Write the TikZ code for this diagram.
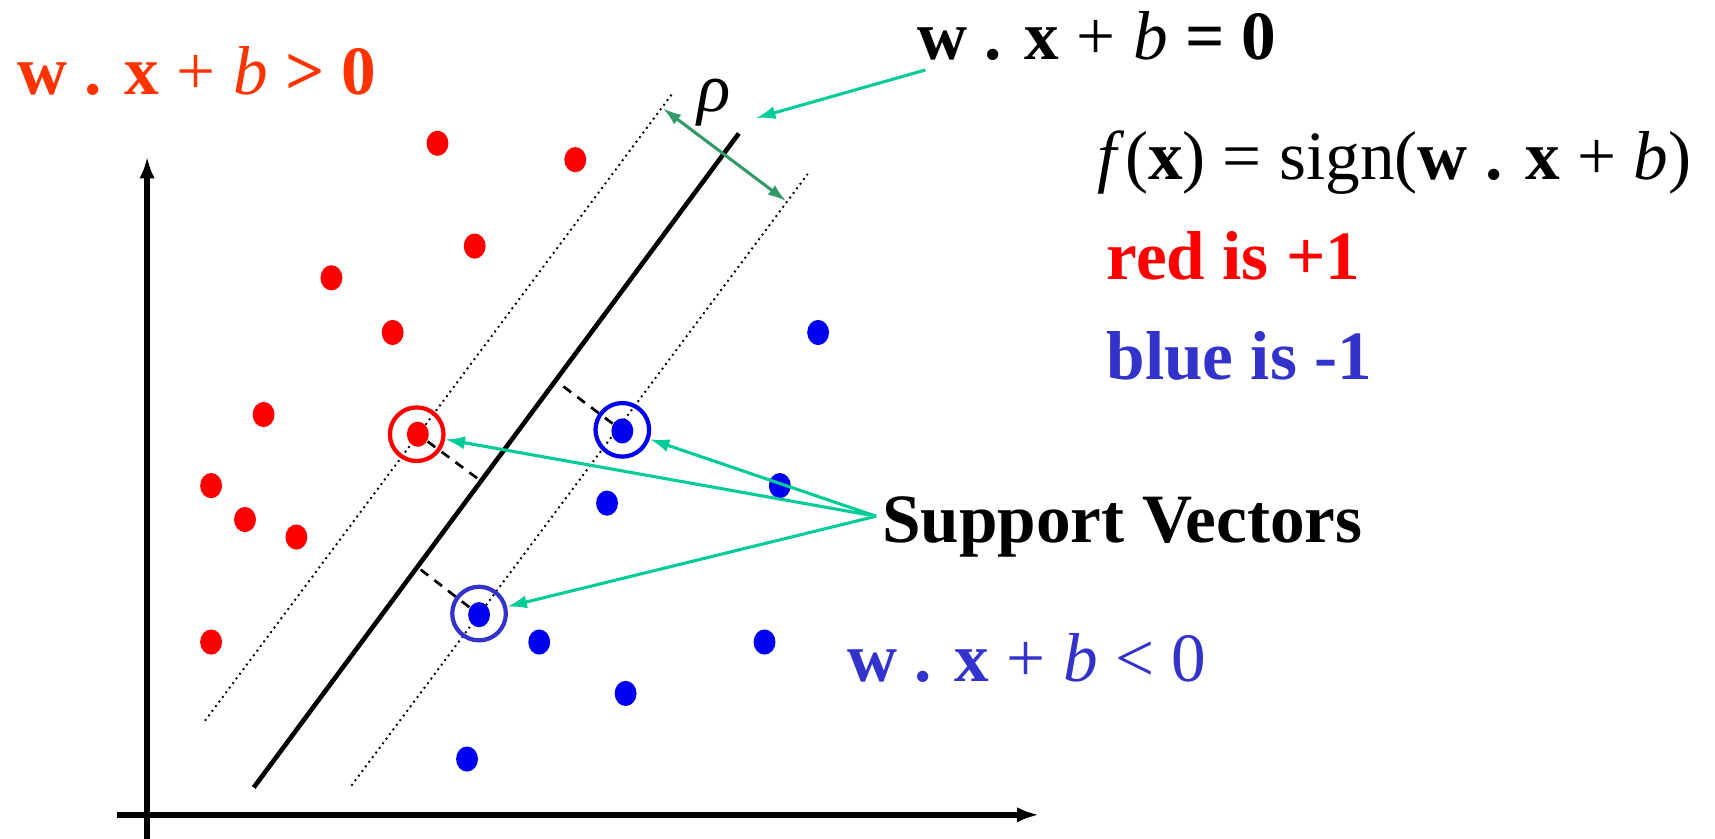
\documentclass[tikz,border=0pt]{standalone}
\usepackage{fontspec}
\setmainfont{Liberation Serif}
\usetikzlibrary{arrows.meta,shapes.geometric}
\definecolor{ptred}{HTML}{FF0000}
\definecolor{ptblue}{HTML}{0000F0}
\definecolor{txtorange}{HTML}{FF3300}
\definecolor{txtblue}{HTML}{3333CC}
\definecolor{svteal}{HTML}{00CC99}
\definecolor{rhogreen}{HTML}{339966}

\begin{document}
\begin{tikzpicture}[
  x=0.01cm, y=-0.01cm,
  lbl/.style={font=\fontsize{18}{20}\selectfont, inner sep=0pt, anchor=base west},
  redpt/.style={ellipse, fill=ptred, inner sep=0pt, minimum width=0.2cm, minimum height=0.23cm},
  bluept/.style={ellipse, fill=ptblue, inner sep=0pt, minimum width=0.2cm, minimum height=0.23cm},
  ring/.style={circle, draw, line width=1.1pt, inner sep=0pt, minimum size=0.49cm},
  axis/.style={line width=1.5pt, -{Latex[length=0.2cm,width=0.14cm]}},
  pointer/.style={svteal, line width=0.8pt, -{Latex[length=0.18cm,width=0.12cm]}},
  margin/.style={densely dotted, line width=0.5pt},
  perp/.style={dash pattern=on 2.5pt off 2pt, line width=0.7pt}
]
\useasboundingbox (0,0) rectangle (1568,767);

% axes
\draw[axis] (134.5,767) -- (134.5,143);
\draw[axis] (107,745) -- (950,745);

% hyperplane and margins
\draw[line width=1.2pt] (232,720) -- (675.5,122);
\draw[margin] (187.4,659) -- (615.6,84.4);
\draw[margin] (321.3,718.3) -- (738.5,159);

% feet of the perpendiculars
\coordinate (footr) at (440,440);
\coordinate (footb1) at (508,348);
\coordinate (footb2) at (381,518);

% support vectors
\node[redpt] (svr) at (382,397) {};
\node[bluept] (svb1) at (569,394) {};
\node[bluept] (svb2) at (438,562) {};
\draw[perp] (svr) -- (footr);
\draw[perp] (svb1) -- (footb1);
\draw[perp] (svb2) -- (footb2);
\node[ring, draw=ptred] (ringr) at (381,397) {};
\node[ring, draw=ptblue] (ringb1) at (569,393) {};
\node[ring, draw=txtblue] (ringb2) at (438,561) {};

% other points
\foreach \px/\py [count=\i] in {400/131, 526/146, 434/225, 303/254, 359/304,
    241/379, 193/444, 224/475, 271/491, 193/587}
  \node[redpt] (r\i) at (\px,\py) {};
\foreach \px/\py [count=\i] in {748/304, 713/444, 555/460, 493/587,
    699/587, 572/634, 427/694}
  \node[bluept] (b\i) at (\px,\py) {};

% labels
\node[lbl, text=txtorange] (gtzero) at (15,86) {\textbf{w . x} + \textit{b} \textbf{> 0}};
\node[lbl] (hyper) at (838,54) {\textbf{w . x} + \textit{b} \textbf{= 0}};
\node[lbl] (fx) at (1003,164) {\textit{f}(\textbf{x}) = sign(\textbf{w . x} + \textit{b})};
\node[lbl, text=ptred] (redlbl) at (1011,256) {\textbf{red is +1}};
\node[lbl, text=txtblue] (bluelbl) at (1011,347) {\textbf{blue is -1}};
\node[lbl] (svlbl) at (806,496) {\textbf{Support Vectors}};
\node[lbl, text=txtblue] (ltzero) at (774,623) {\textbf{w . x} + \textit{b} < 0};
\node[font=\fontsize{18}{20}\selectfont, inner sep=0pt] (rho) at (653,94) {\textit{ρ}};

% width of the margin
\coordinate (rhoa) at (606,99);
\coordinate (rhob) at (719,184);
\draw[rhogreen, line width=0.8pt, {Latex[length=0.17cm,width=0.11cm]}-{Latex[length=0.17cm,width=0.11cm]}] (rhoa) -- (rhob);

% pointers
\coordinate (hypfrom) at (846,64);
\coordinate (hypto) at (691,108);
\draw[pointer] (hypfrom) -- (hypto);
\coordinate (svfrom) at (801,472);
\draw[pointer] (svfrom) -- (ringr);
\draw[pointer] (svfrom) -- (ringb1);
\draw[pointer] (svfrom) -- (ringb2);
\end{tikzpicture}
\end{document}
